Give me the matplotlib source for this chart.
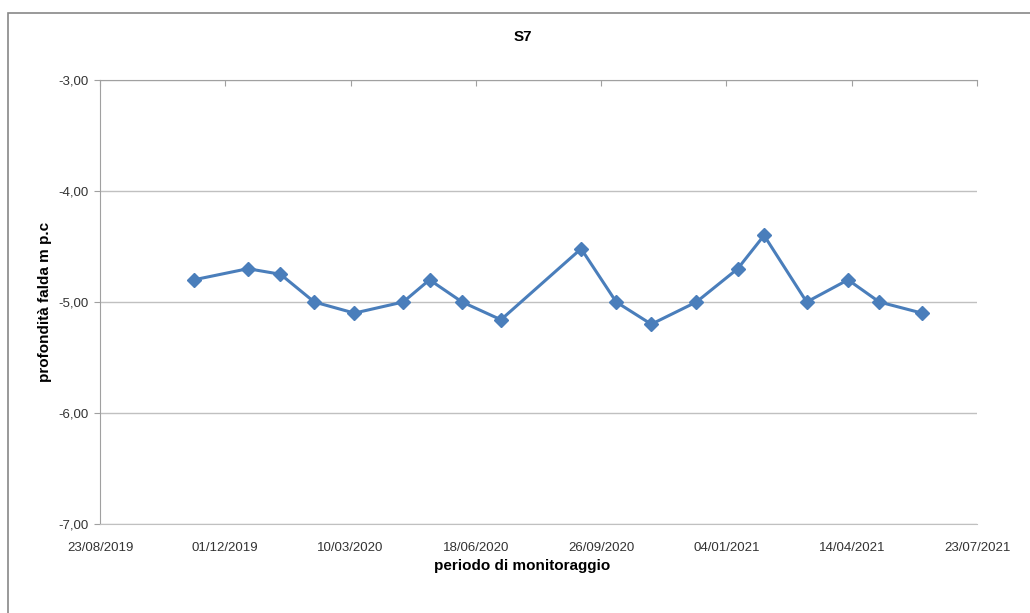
import matplotlib.pyplot as plt
import matplotlib.dates as mdates
from matplotlib.patches import Rectangle
from matplotlib.ticker import FuncFormatter
from datetime import datetime

plt.rcParams['font.family'] = ['Liberation Sans Narrow', 'Liberation Sans', 'DejaVu Sans']

# Data
dates = ["06/11/2019", "19/12/2019", "14/01/2020", "10/02/2020", "13/03/2020",
         "21/04/2020", "12/05/2020", "07/06/2020", "08/07/2020", "10/09/2020",
         "08/10/2020", "05/11/2020", "11/12/2020", "13/01/2021", "03/02/2021",
         "09/03/2021", "11/04/2021", "06/05/2021", "09/06/2021"]
depth = [-4.80, -4.70, -4.75, -5.00, -5.10, -5.00, -4.80, -5.00, -5.16, -4.52,
         -5.00, -5.20, -5.00, -4.70, -4.40, -5.00, -4.80, -5.00, -5.10]
tick_dates = ["23/08/2019", "01/12/2019", "10/03/2020", "18/06/2020",
              "26/09/2020", "04/01/2021", "14/04/2021", "23/07/2021"]
y_ticks = [-7, -6, -5, -4, -3]

x = [datetime.strptime(d, "%d/%m/%Y") for d in dates]
xt = [datetime.strptime(d, "%d/%m/%Y") for d in tick_dates]

fig = plt.figure(figsize=(10.3, 6.13), dpi=100)
ax = fig.add_axes([0.0971, 0.1452, 0.8515, 0.7243])

# outer chart frame (cut off at right and bottom)
fig.patches.append(Rectangle((8 / 1030, -0.1), 1.2, 1 - 13 / 613 + 0.1,
                             transform=fig.transFigure, fill=False,
                             edgecolor="#888888", linewidth=1.2))

ax.plot(x, depth, color="#4a7ebb", linewidth=2.2, marker="D", markersize=7)

ax.set_xlim(xt[0], xt[-1])
ax.set_ylim(-7, -3)
ax.set_xticks(xt)
ax.xaxis.set_major_formatter(mdates.DateFormatter("%d/%m/%Y"))
ax.set_yticks(y_ticks)
ax.yaxis.set_major_formatter(FuncFormatter(lambda v, p: f"{v:.2f}".replace(".", ",")))

ax.grid(axis="y", color="#c0c0c0", linewidth=1)
ax.set_axisbelow(True)
ax.spines["right"].set_visible(False)
for s in ["left", "top"]:
    ax.spines[s].set_color("#a0a0a0")
ax.spines["bottom"].set_color("#c0c0c0")

ax.tick_params(axis="x", top=True, bottom=False, labeltop=False, labelbottom=True,
               direction="in", length=4, color="#a0a0a0", labelsize=9.5, pad=13,
               labelcolor="#333333")
ax.tick_params(axis="y", direction="out", length=4, color="#a0a0a0", labelsize=9.5,
               pad=4, labelcolor="#333333")

fig.text(523 / 1030, 1 - 37 / 613, "S7", fontsize=11, fontweight="bold",
         ha="center", va="center")
fig.text(522 / 1030, 1 - 566 / 613, "periodo di monitoraggio", fontsize=11,
         fontweight="bold", ha="center", va="center")
fig.text(45 / 1030, 1 - 302 / 613, "profondità falda m p.c", fontsize=11,
         fontweight="bold", ha="center", va="center", rotation=90)

plt.savefig("out.png")
